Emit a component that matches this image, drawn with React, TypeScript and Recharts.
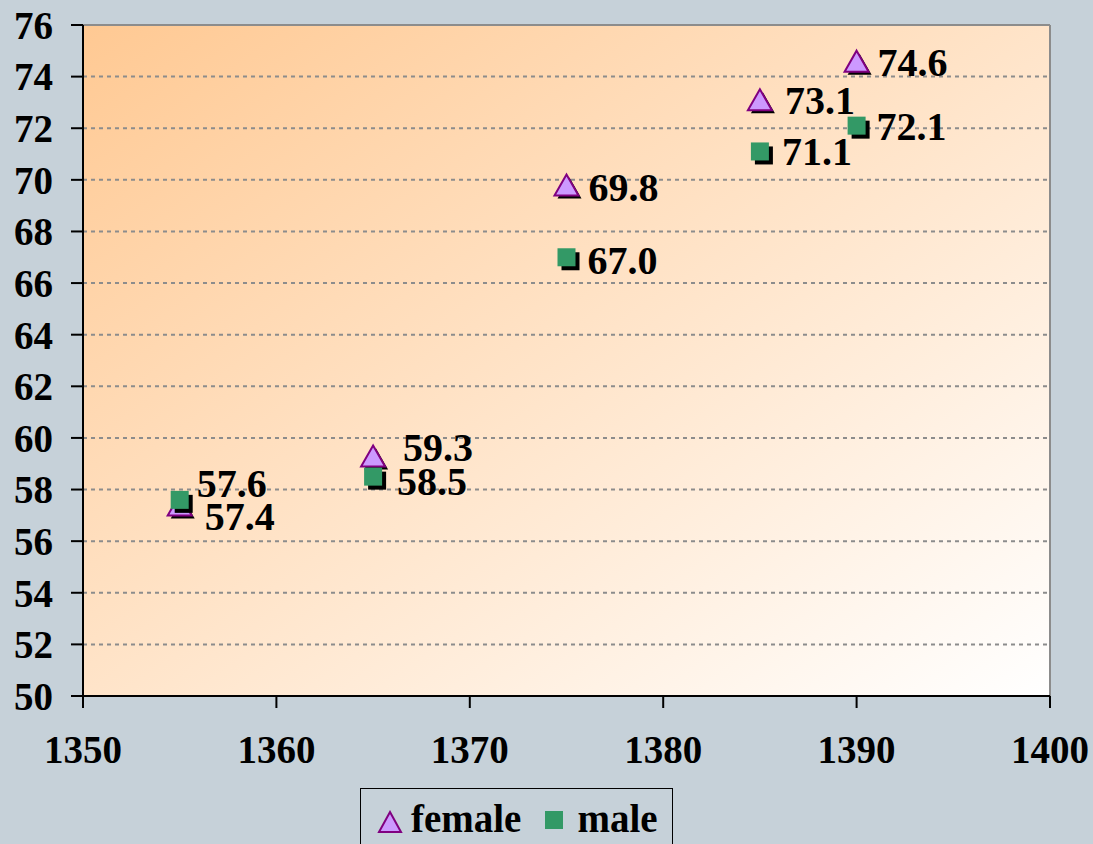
import React from 'react';
import { ScatterChart, Scatter, XAxis, YAxis, CartesianGrid, Legend, ReferenceLine } from 'recharts';

const years = [1355, 1365, 1375, 1385, 1390];
const femaleValues = [57.4, 59.3, 69.8, 73.1, 74.6];
const maleValues = [57.6, 58.5, 67.0, 71.1, 72.1];
const xTicks = [1350, 1360, 1370, 1380, 1390, 1400];
const yTicks = [50, 52, 54, 56, 58, 60, 62, 64, 66, 68, 70, 72, 74, 76];

// label placement offsets (dx, dy) relative to marker centre
const femaleLabelOffsets = [[25, 11], [30, -9], [22, 2], [25, 0], [21, 1]];
const maleLabelOffsets = [[17, -17], [24, 4], [21, 3], [22, 0], [20, 0]];

const femaleData = years.map((x, i) => ({ x, y: femaleValues[i] }));
const maleData = years.map((x, i) => ({ x, y: maleValues[i] }));

const FONT = '"Liberation Serif", "Times New Roman", serif';
const BG = '#C6D1D9';

const labelText = (cx: number, cy: number, off: number[], v: number) => (
  <text x={cx + off[0]} y={cy + off[1]} dy="0.35em" fontFamily={FONT} fontWeight="bold" fontSize={40} fill="#000">
    {v.toFixed(1)}
  </text>
);

const FemaleShape = (props: any) => {
  const { cx, cy, payload } = props;
  const i = years.indexOf(payload.x);
  const w = 24, h = 21;
  const pts = (ox: number, oy: number) =>
    `${cx + ox},${cy - h / 2 + oy} ${cx + w / 2 + ox},${cy + h / 2 + oy} ${cx - w / 2 + ox},${cy + h / 2 + oy}`;
  return (
    <g>
      <polygon points={pts(3, 3)} fill="#000" />
      <polygon points={pts(0, 0)} fill="#CC99FF" stroke="#800080" strokeWidth={2} />
      {labelText(cx, cy, femaleLabelOffsets[i], payload.y)}
    </g>
  );
};

const MaleShape = (props: any) => {
  const { cx, cy, payload } = props;
  const i = years.indexOf(payload.x);
  const s = 18;
  return (
    <g>
      <rect x={cx - s / 2 + 4} y={cy - s / 2 + 4} width={s} height={s} fill="#000" />
      <rect x={cx - s / 2} y={cy - s / 2} width={s} height={s} fill="#339966" />
      {labelText(cx, cy, maleLabelOffsets[i], payload.y)}
    </g>
  );
};

const LegendContent = () => (
  <div
    style={{
      marginLeft: 360,
      width: 313,
      height: 60,
      boxSizing: 'border-box',
      border: '1.5px solid #000',
      borderBottom: 'none',
      display: 'flex',
      alignItems: 'center',
      fontFamily: FONT,
      fontWeight: 'bold',
      fontSize: 39,
      color: '#000',
      paddingLeft: 16,
    }}
  >
    <svg width={26} height={24} style={{ marginRight: 8, marginTop: 6 }}>
      <polygon points="13,2 24,22 2,22" fill="#CC99FF" stroke="#800080" strokeWidth={2} />
    </svg>
    <span style={{ lineHeight: '39px' }}>female</span>
    <svg width={20} height={20} style={{ marginLeft: 23, marginRight: 13, marginTop: 2 }}>
      <rect x={1} y={1} width={18} height={18} fill="#339966" />
    </svg>
    <span style={{ lineHeight: '39px' }}>male</span>
  </div>
);

const tickStyle = { fontFamily: FONT, fontWeight: 'bold' as const, fontSize: 39, fill: '#000' };

export default function App() {
  return (
    <div style={{ position: 'absolute', left: 0, top: 0, width: 1093, height: 844, background: BG, overflow: 'hidden' }}>
      <ScatterChart width={1093} height={844} margin={{ top: 25, right: 43, left: 0, bottom: 0 }}>
        <defs>
          <linearGradient id="plotGrad" x1="0" y1="0" x2="1" y2="1">
            <stop offset="0%" stopColor="#FFC993" />
            <stop offset="100%" stopColor="#FFFFFF" />
          </linearGradient>
        </defs>
        <CartesianGrid
          vertical={false}
          stroke="#8C8C8C"
          strokeWidth={2}
          strokeDasharray="4 4"
          fill="url(#plotGrad)"
          fillOpacity={1}
        />
        <ReferenceLine y={76} stroke="#8C8C8C" strokeWidth={2} />
        <ReferenceLine x={1400} stroke="#8C8C8C" strokeWidth={2} />
        <XAxis
          type="number"
          dataKey="x"
          domain={[1350, 1400]}
          ticks={xTicks}
          height={92}
          tickSize={12}
          tickMargin={27}
          axisLine={{ stroke: '#000', strokeWidth: 2 }}
          tickLine={{ stroke: '#000', strokeWidth: 2 }}
          tick={tickStyle}
          allowDataOverflow
        />
        <YAxis
          type="number"
          dataKey="y"
          domain={[50, 76]}
          ticks={yTicks}
          width={83}
          tickSize={12}
          tickMargin={18}
          axisLine={{ stroke: '#000', strokeWidth: 2 }}
          tickLine={{ stroke: '#000', strokeWidth: 2 }}
          tick={tickStyle}
          interval={0}
          allowDataOverflow
        />
        <Legend
          verticalAlign="bottom"
          height={56}
          content={LegendContent}
          wrapperStyle={{ left: 0, width: 1093, height: 56, overflow: 'hidden' }}
        />
        <Scatter name="female" data={femaleData} shape={FemaleShape} isAnimationActive={false} />
        <Scatter name="male" data={maleData} shape={MaleShape} isAnimationActive={false} />
      </ScatterChart>
    </div>
  );
}
